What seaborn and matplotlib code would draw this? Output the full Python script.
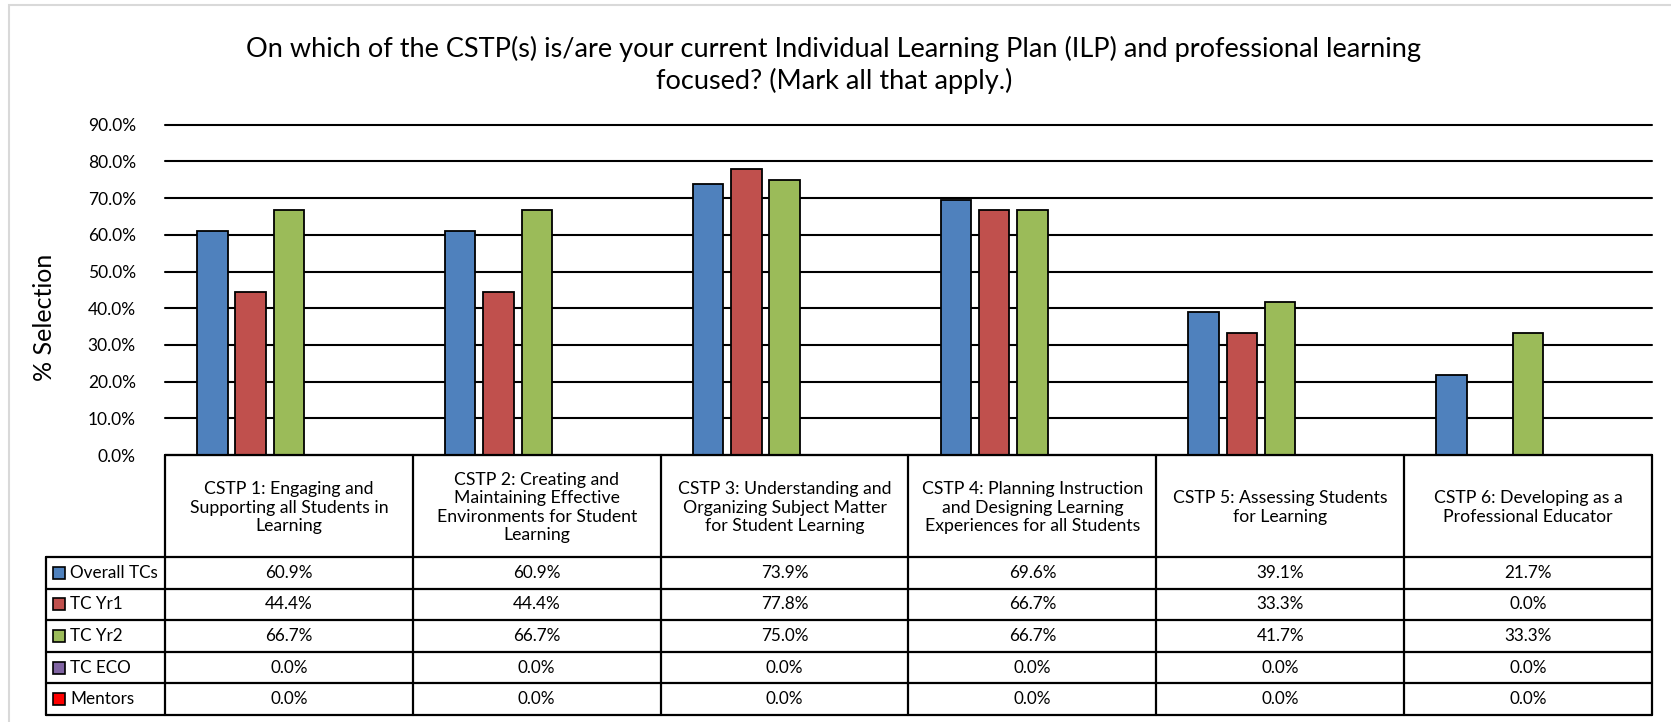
import numpy as np
import pandas as pd
import matplotlib
matplotlib.use("Agg")
import matplotlib.pyplot as plt
from matplotlib.lines import Line2D
from matplotlib.patches import Rectangle
import seaborn as sns

categories = [
    "CSTP 1: Engaging and\nSupporting all Students in\nLearning",
    "CSTP 2: Creating and\nMaintaining Effective\nEnvironments for Student\nLearning",
    "CSTP 3: Understanding and\nOrganizing Subject Matter\nfor Student Learning",
    "CSTP 4: Planning Instruction\nand Designing Learning\nExperiences for all Students",
    "CSTP 5: Assessing Students\nfor Learning",
    "CSTP 6: Developing as a\nProfessional Educator",
]
series_names = ["Overall TCs", "TC Yr1", "TC Yr2", "TC ECO", "Mentors"]
overall_tcs = [60.9, 60.9, 73.9, 69.6, 39.1, 21.7]
tc_yr1 = [44.4, 44.4, 77.8, 66.7, 33.3, 0.0]
tc_yr2 = [66.7, 66.7, 75.0, 66.7, 41.7, 33.3]
tc_eco = [0.0, 0.0, 0.0, 0.0, 0.0, 0.0]
mentors = [0.0, 0.0, 0.0, 0.0, 0.0, 0.0]
colors = ["#4F81BD", "#C0504D", "#9BBB59", "#8064A2", "#FF0000"]
y_ticks = [0, 10, 20, 30, 40, 50, 60, 70, 80, 90]
title = ("On which of the CSTP(s) is/are your current Individual Learning Plan (ILP) and professional learning\n"
         "focused? (Mark all that apply.)")

all_series = [overall_tcs, tc_yr1, tc_yr2, tc_eco, mentors]
rows = []
for name, vals in zip(series_names, all_series):
    for i, v in enumerate(vals):
        rows.append({"cat": i, "series": name, "value": v})
df = pd.DataFrame(rows)

sns.set_theme(style="white")
plt.rcParams["font.family"] = ["Lato", "DejaVu Sans"]

W, H = 1671, 722
fig = plt.figure(figsize=(W / 100, H / 100), dpi=100)

def fx(px):
    return px / W

def fy(py):
    return 1 - py / H

ax_left, ax_right, ax_top, ax_bot = 165, 1652, 124.7, 455
ax = fig.add_axes([fx(ax_left), fy(ax_bot), fx(ax_right - ax_left), (ax_bot - ax_top) / H])

sns.barplot(data=df, x="cat", y="value", hue="series", hue_order=series_names,
            palette=dict(zip(series_names, colors)), ax=ax, width=0.773, gap=0.204,
            saturation=1, edgecolor="black", linewidth=1.3, legend=False,
            errorbar=None, zorder=3)

ax.set_xlim(-0.5, 5.5)
ax.set_ylim(0, 90)
ax.set_yticks(y_ticks)
ax.set_yticklabels([f"{t:.1f}%" for t in y_ticks], fontsize=12.5, color="black")
ax.set_xticks([])
ax.set_xlabel("")
ax.tick_params(axis="y", length=0, pad=21)
for s in ax.spines.values():
    s.set_visible(False)
ax.yaxis.grid(True, color="black", linewidth=1.5)
for gl in ax.get_ygridlines():
    gl.set_clip_on(False)
ax.set_axisbelow(True)
ax.set_ylabel("% Selection", fontsize=18, color="black")
ax.yaxis.set_label_coords(-0.073, 0.418)

fig.text(fx(834), fy(65), title, ha="center", va="center", fontsize=19.5,
         color="black", linespacing=1.3)

# data table
tab_left, tab_bot = 46, 715
row_h = 31.6
tax = fig.add_axes([fx(tab_left), fy(tab_bot), fx(ax_right - tab_left), (tab_bot - ax_bot) / H])
col_w = (ax_right - ax_left) / 6
leg_w = (ax_left - tab_left) / col_w
hdr_units = 102 / row_h
nrows = len(series_names)
tax.set_xlim(-0.5 - leg_w, 5.5)
tax.set_ylim(0, nrows + hdr_units)
tax.axis("off")

lw = 1.6
for k in range(nrows + 1):
    tax.add_line(Line2D([-0.5 - leg_w, 5.5], [k, k], color="black", lw=lw, clip_on=False))
tax.add_line(Line2D([-0.5, 5.5], [nrows + hdr_units] * 2, color="black", lw=lw, clip_on=False))
tax.add_line(Line2D([-0.5 - leg_w] * 2, [0, nrows], color="black", lw=lw, clip_on=False))
for k in range(7):
    tax.add_line(Line2D([-0.5 + k] * 2, [0, nrows + hdr_units], color="black", lw=lw, clip_on=False))

for i, cat in enumerate(categories):
    tax.text(i, nrows + hdr_units / 2 - 0.05, cat, ha="center", va="center", fontsize=12.7,
             linespacing=1.2, color="black")

key_x = -0.5 + (59.5 - ax_left) / col_w
txt_x = -0.5 + (70 - ax_left) / col_w
for r, (name, vals, c) in enumerate(zip(series_names, all_series, colors)):
    yc = nrows - r - 0.5
    tax.plot([key_x], [yc], marker="s", markersize=8.5, markerfacecolor=c,
             markeredgecolor="black", markeredgewidth=1.2, clip_on=False)
    tax.text(txt_x, yc, name, ha="left", va="center", fontsize=12.3, color="black")
    for i, v in enumerate(vals):
        tax.text(i, yc, f"{v:.1f}%", ha="center", va="center", fontsize=12.3, color="black")

# outer chart border
fig.add_artist(Rectangle((fx(9), fy(740)), fx(1700), (740 - 5) / H, transform=fig.transFigure,
                         fill=False, edgecolor="#D9D9D9", linewidth=1.5))

fig.savefig("out.png", dpi=100, facecolor="white")
